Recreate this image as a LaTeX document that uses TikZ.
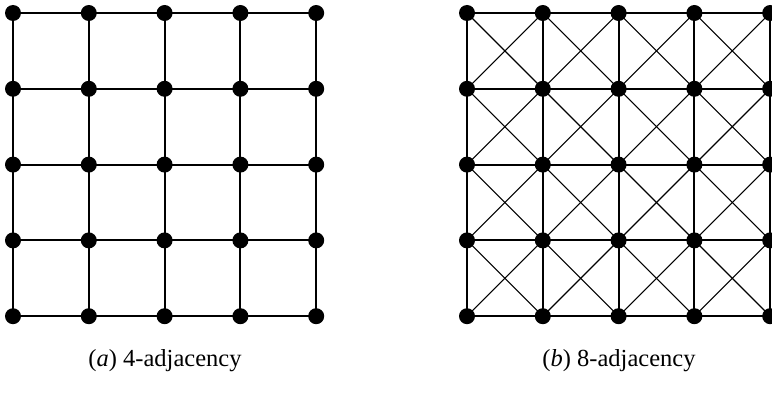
\documentclass[tikz,border=0pt]{standalone}
\usepackage{fontspec}
\setmainfont{Liberation Serif}
\begin{document}
\begin{tikzpicture}[x=1pt,y=-1pt,
  gridline/.style={line width=2pt},
  diagline/.style={line width=1.1pt},
  vtx/.style={circle,fill=black,inner sep=0pt,minimum size=16pt},
  captext/.style={font=\fontsize{24.5}{29}\selectfont,inner sep=0pt}]
\useasboundingbox (0,0) rectangle (772,401);
\foreach \i in {0,...,4}{
  \foreach \j in {0,...,4}{
    \coordinate (a\i\j) at ({13+75.8*\i},{13+75.8*\j});
    \coordinate (b\i\j) at ({467+75.8*\i},{13+75.8*\j});
  }
}
% left grid
\foreach \k in {0,...,4}{
  \draw[gridline] (a0\k) -- (a4\k);
  \draw[gridline] (a\k0) -- (a\k4);
}
% right grid diagonals
\foreach \i [evaluate=\i as \ni using int(\i+1)] in {0,...,3}{
  \foreach \j [evaluate=\j as \nj using int(\j+1)] in {0,...,3}{
    \draw[diagline] (b\i\j) -- (b\ni\nj);
    \draw[diagline] (b\ni\j) -- (b\i\nj);
  }
}
\foreach \k in {0,...,4}{
  \draw[gridline] (b0\k) -- (b4\k);
  \draw[gridline] (b\k0) -- (b\k4);
}
\foreach \i in {0,...,4}{
  \foreach \j in {0,...,4}{
    \node[vtx] (na\i\j) at (a\i\j) {};
    \node[vtx] (nb\i\j) at (b\i\j) {};
  }
}
\node[captext] (capa) at (165,361) {(\textit{a}) 4-adjacency};
\node[captext] (capb) at (619,361) {(\textit{b}) 8-adjacency};
\end{tikzpicture}
\end{document}
